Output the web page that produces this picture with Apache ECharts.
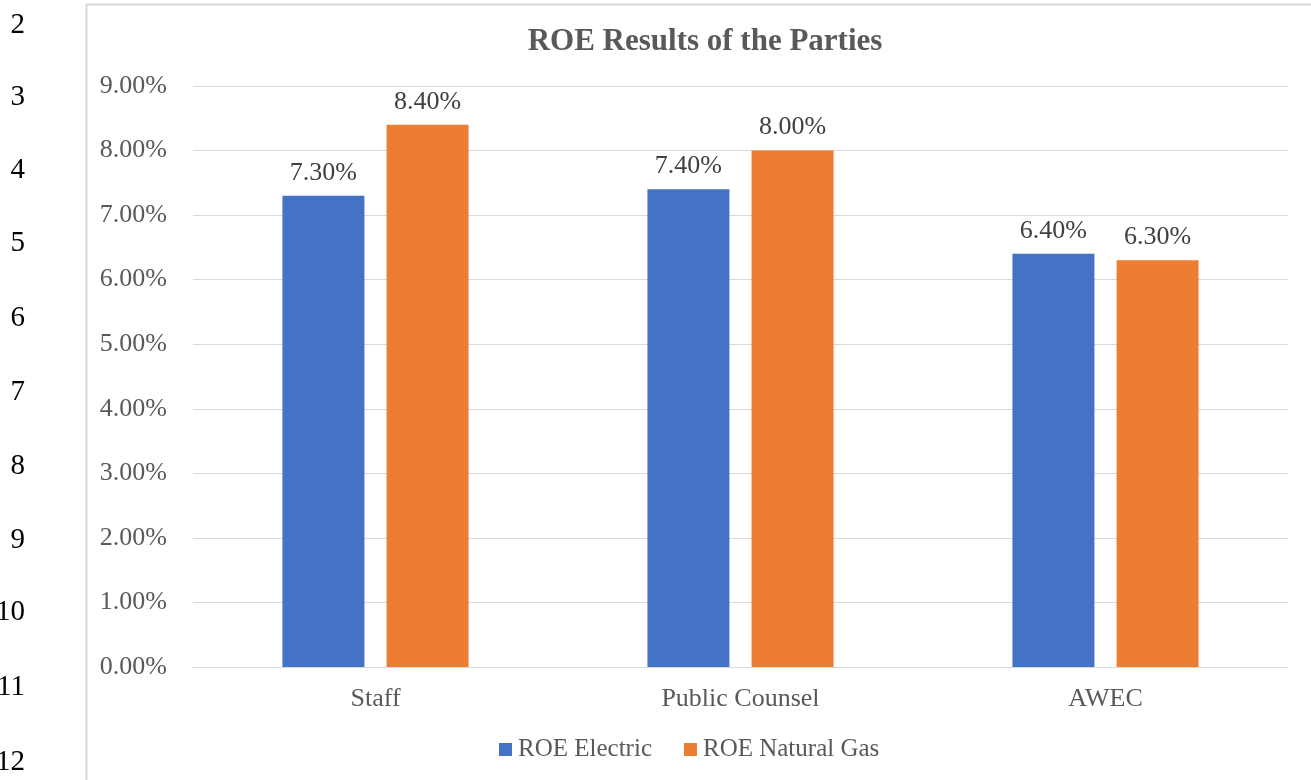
<!DOCTYPE html>
<html>
<head>
<meta charset="utf-8">
<script src="https://cdn.jsdelivr.net/npm/echarts@6/dist/echarts.min.js"></script>
<style>
  html, body { margin: 0; padding: 0; background: #fff; }
  #chart { width: 1311px; height: 780px; }
</style>
</head>
<body>
<div id="chart"></div>
<script>
const categories = ['Staff', 'Public Counsel', 'AWEC'];
const roeElectric = [7.3, 7.4, 6.4];
const roeNaturalGas = [8.4, 8.0, 6.3];
const lineNumbers = ['2', '3', '4', '5', '6', '7', '8', '9', '10', '11', '12'];
const lineNumberY = [25, 97, 170, 243, 318, 392, 466, 540, 612, 687, 762];

const serif = '"Liberation Serif", "Times New Roman", serif';
const chart = echarts.init(document.getElementById('chart'));

const labelStyle = {
  show: true, position: 'top', distance: 10,
  fontFamily: serif, fontSize: 26, color: '#404040',
  formatter: p => p.value.toFixed(2) + '%'
};

const option = {
  animation: false,
  title: {
    text: 'ROE Results of the Parties',
    left: 700,
    top: 21,
    textAlign: 'center',
    textStyle: { fontFamily: serif, fontSize: 31, fontWeight: 'bold', color: '#595959' }
  },
  legend: {
    bottom: 13,
    left: 494,
    itemWidth: 13,
    itemHeight: 13,
    itemGap: 32,
    icon: 'rect',
    textStyle: { fontFamily: serif, fontSize: 25, color: '#595959', padding: [0, 0, 0, 1] },
    data: ['ROE Electric', 'ROE Natural Gas']
  },
  grid: { left: 193, right: 23, top: 86, bottom: 113 },
  xAxis: {
    type: 'category',
    data: categories,
    axisTick: { show: false },
    axisLine: { lineStyle: { color: '#d9d9d9' } },
    axisLabel: { fontFamily: serif, fontSize: 26, color: '#595959', margin: 19 }
  },
  yAxis: {
    type: 'value',
    min: 0,
    max: 9,
    interval: 1,
    axisLabel: {
      fontFamily: serif, fontSize: 26, color: '#595959', margin: 26,
      formatter: v => v.toFixed(2) + '%'
    },
    splitLine: { lineStyle: { color: '#d9d9d9' } }
  },
  series: [
    {
      name: 'ROE Electric',
      type: 'bar',
      data: roeElectric,
      barWidth: 82,
      barGap: '27%',
      itemStyle: { color: '#4472c4' },
      label: labelStyle
    },
    {
      name: 'ROE Natural Gas',
      type: 'bar',
      data: roeNaturalGas,
      barWidth: 82,
      barGap: '27%',
      itemStyle: { color: '#ed7d31' },
      label: labelStyle
    }
  ],
  graphic: [
    {
      type: 'rect',
      shape: { x: 86.5, y: 4.5, width: 1400, height: 1000 },
      style: { fill: 'none', stroke: '#d9d9d9', lineWidth: 2 },
      silent: true
    }
  ].concat(lineNumbers.map((t, i) => ({
    type: 'text',
    x: 25,
    y: lineNumberY[i],
    style: {
      text: t,
      fill: '#000',
      fontFamily: serif,
      fontSize: 29,
      align: 'right',
      verticalAlign: 'middle'
    }
  })))
};

chart.setOption(option);
</script>
</body>
</html>
